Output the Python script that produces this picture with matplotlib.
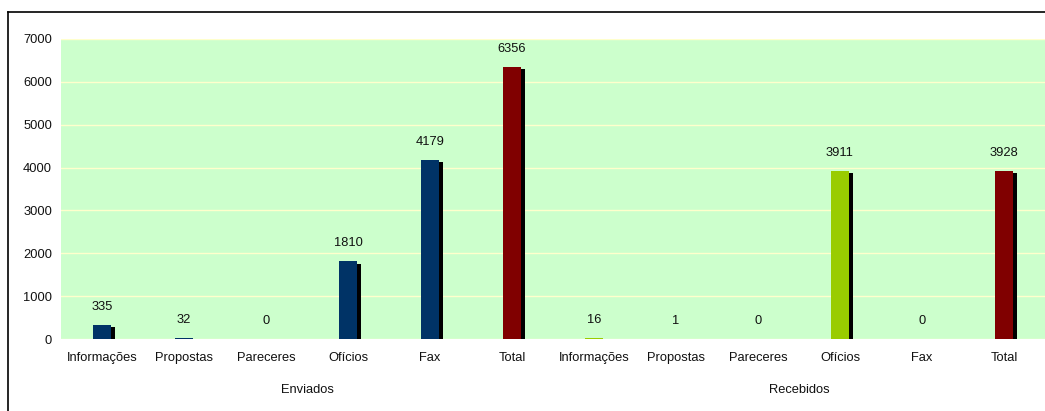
import matplotlib.pyplot as plt
import matplotlib.patheffects as pe
from matplotlib.lines import Line2D

plt.rcParams['font.family'] = ['Liberation Sans', 'DejaVu Sans']

categories = ['Informações', 'Propostas', 'Pareceres', 'Ofícios', 'Fax', 'Total']
groups = ['Enviados', 'Recebidos']
enviados = [335, 32, 0, 1810, 4179, 6356]
recebidos = [16, 1, 0, 3911, 0, 3928]

navy = '#003366'
lime = '#99CC00'
maroon = '#800000'

labels = categories + categories
values = enviados + recebidos
colors = [navy] * 5 + [maroon] + [lime] * 5 + [maroon]
x = list(range(len(values)))

fig = plt.figure(figsize=(10.45, 4.11), dpi=100)
ax = fig.add_axes([61 / 1045, 72 / 411, 984 / 1045, 300 / 411])
ax.set_facecolor('#CCFFCC')

# bars with a hard black drop shadow
shadow = [pe.SimplePatchShadow(offset=(2.7, -1.5), shadow_rgbFace='black', alpha=1.0), pe.Normal()]
bars = ax.bar(x, values, width=0.22, color=colors, linewidth=0, zorder=3)
for b, v in zip(bars, values):
    if v > 0:
        b.set_path_effects(shadow)

for xi, v in zip(x, values):
    ax.annotate(str(v), (xi, v), xytext=(0, 13), textcoords='offset points',
                ha='center', va='center', fontsize=9.3, color='#111111')

ax.set_xlim(-0.5, len(values) - 0.5)
ax.set_ylim(0, 7000)
ax.set_yticks(range(0, 7001, 1000))
ax.set_xticks(x)
ax.set_xticklabels(labels)
ax.yaxis.grid(True, color='#FFFFCC', linewidth=1.0, zorder=0)
ax.set_axisbelow(True)
ax.tick_params(axis='both', length=0, labelsize=9.3, colors='#111111')
ax.tick_params(axis='x', pad=9)
ax.tick_params(axis='y', pad=6.5)
for s in ax.spines.values():
    s.set_visible(False)

# group names under the category labels
for i, g in enumerate(groups):
    ax.text(i * 6 + 2.5, -0.17, g, transform=ax.get_xaxis_transform(),
            ha='center', va='center', fontsize=9.3, color='#111111')

# outer chart frame
fig.add_artist(Line2D([8 / 1045, 8 / 1045], [0, 1 - 12 / 411], color='black', linewidth=1.2))
fig.add_artist(Line2D([8 / 1045, 1], [1 - 12 / 411, 1 - 12 / 411], color='black', linewidth=1.2))

fig.savefig('out.png', dpi=100)
